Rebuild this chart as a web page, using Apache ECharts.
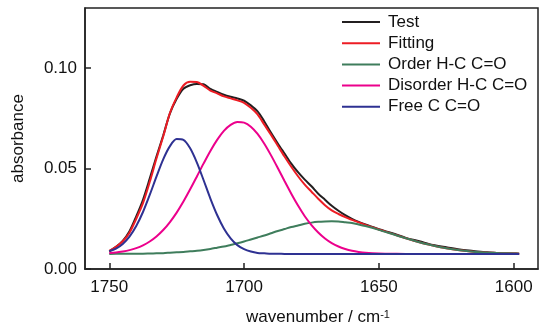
<!DOCTYPE html>
<html>
<head>
<meta charset="utf-8">
<script src="https://cdn.jsdelivr.net/npm/echarts@6/dist/echarts.min.js"></script>
<style>
html,body{margin:0;padding:0;background:#fff;}
#c{width:540px;height:326px;}
</style>
</head>
<body>
<div id="c"></div>
<script>
var wavenumbers = [1750,1747.5,1745,1742.5,1740,1737.5,1735,1732.5,1730,1727.5,1725,1722.5,1720,1717.5,1715,1712.5,1710,1707.5,1705,1702.5,1700,1697.5,1695,1692.5,1690,1687.5,1685,1682.5,1680,1677.5,1675,1672.5,1670,1667.5,1665,1662.5,1660,1657.5,1655,1650,1645,1640,1635,1630,1625,1620,1615,1610,1605,1600,1598];
var testVals = [0.0088,0.0110,0.0140,0.0188,0.0262,0.0345,0.0450,0.0560,0.0665,0.0775,0.0848,0.0898,0.0915,0.0922,0.0920,0.0897,0.0882,0.0868,0.0858,0.0850,0.0838,0.0815,0.0785,0.0735,0.0678,0.0625,0.0575,0.0525,0.0482,0.0445,0.0412,0.0375,0.0345,0.0315,0.0290,0.0268,0.0250,0.0235,0.0222,0.0198,0.0178,0.0155,0.0138,0.0120,0.0108,0.0097,0.0090,0.0083,0.0079,0.0077,0.0076];
var fittingVals = [0.0090,0.0110,0.0138,0.0181,0.0250,0.0328,0.0433,0.0550,0.0660,0.0777,0.0855,0.0914,0.0933,0.0932,0.0912,0.0889,0.0875,0.0860,0.0850,0.0840,0.0828,0.0803,0.0770,0.0719,0.0668,0.0614,0.0560,0.0509,0.0462,0.0420,0.0385,0.0350,0.0318,0.0292,0.0274,0.0258,0.0245,0.0232,0.0220,0.0197,0.0175,0.0153,0.0133,0.0117,0.0103,0.0093,0.0086,0.0082,0.0079,0.0077,0.0076];
var orderVals = [0.0075,0.0076,0.0076,0.0076,0.0076,0.0076,0.0077,0.0078,0.0079,0.0081,0.0083,0.0085,0.0088,0.0091,0.0095,0.0100,0.0106,0.0112,0.0120,0.0128,0.0137,0.0147,0.0157,0.0167,0.0178,0.0189,0.0199,0.0209,0.0217,0.0225,0.0231,0.0235,0.0237,0.0238,0.0237,0.0233,0.0229,0.0222,0.0214,0.0195,0.0174,0.0153,0.0133,0.0117,0.0103,0.0093,0.0086,0.0082,0.0079,0.0077,0.0076];
var disorderVals = [0.0080,0.0082,0.0087,0.0094,0.0104,0.0118,0.0137,0.0162,0.0194,0.0234,0.0281,0.0336,0.0397,0.0461,0.0526,0.0588,0.0643,0.0688,0.0718,0.0732,0.0729,0.0709,0.0673,0.0624,0.0566,0.0503,0.0438,0.0375,0.0316,0.0263,0.0219,0.0182,0.0152,0.0129,0.0112,0.0100,0.0091,0.0085,0.0081,0.0077,0.0076,0.0075,0.0075,0.0075,0.0075,0.0075,0.0075,0.0075,0.0075,0.0075,0.0075];
var freeVals = [0.0089,0.0102,0.0125,0.0161,0.0214,0.0284,0.0369,0.0460,0.0546,0.0612,0.0647,0.0643,0.0601,0.0530,0.0442,0.0351,0.0269,0.0202,0.0153,0.0119,0.0099,0.0087,0.0080,0.0078,0.0076,0.0076,0.0075,0.0075,0.0075,0.0075,0.0075,0.0075,0.0075,0.0075,0.0075,0.0075,0.0075,0.0075,0.0075,0.0075,0.0075,0.0075,0.0075,0.0075,0.0075,0.0075,0.0075,0.0075,0.0075,0.0075,0.0075];
var seriesNames = ['Test','Fitting','Order H-C C=O','Disorder H-C C=O','Free C C=O'];
var seriesColors = ['#231f20','#ed1c24','#3f7d5c','#ec008c','#2e3192'];
var xTicks = [1750,1700,1650,1600];
var yTicks = [0, 0.05, 0.10];

function pairs(vals){ return wavenumbers.map(function(w,i){ return [w, vals[i]]; }); }
var allVals = [testVals, fittingVals, orderVals, disorderVals, freeVals];
var font = 'Liberation Sans, Arial, sans-serif';

var chart = echarts.init(document.getElementById('c'));
chart.setOption({
  animation: false,
  backgroundColor: '#fff',
  textStyle: {fontFamily: font},
  grid: {left: 85, right: 2, top: 8, bottom: 57, outerBoundsMode: 'none', containLabel: false,
    show: true, borderColor: '#222', borderWidth: 1.5, backgroundColor: 'transparent'},
  legend: {
    orient: 'vertical', left: 342, top: 13, padding: 0, itemGap: 3.2,
    itemWidth: 38, itemHeight: 2, icon: 'rect',
    data: seriesNames,
    textStyle: {fontSize: 17, color: '#111', fontFamily: font, lineHeight: 18, padding: [0,0,0,3]}
  },
  xAxis: {
    type: 'value', inverse: true, min: 1591, max: 1759,
    splitLine: {show: false},
    axisLine: {show: true, lineStyle: {color: '#222', width: 1.5}},
    axisTick: {show: true, inside: true, length: 6, customValues: xTicks, lineStyle: {color: '#222', width: 1.5}},
    axisLabel: {customValues: xTicks, fontSize: 17, color: '#111', margin: 10, fontFamily: font,
      formatter: function(v){ return String(v); }},
    name: '{a|wavenumber / cm}{b|-1}',
    nameLocation: 'middle', nameGap: 40,
    nameTextStyle: {padding: [0,0,0,13], rich: {
      a: {fontSize: 17, color: '#111', fontFamily: font},
      b: {fontSize: 11, color: '#111', fontFamily: font, verticalAlign: 'top', padding: [0,0,6,0]}
    }}
  },
  yAxis: {
    type: 'value', min: 0, max: 0.13,
    splitLine: {show: false},
    axisLine: {show: true, lineStyle: {color: '#222', width: 1.5}},
    axisTick: {show: true, inside: true, length: 6, customValues: yTicks, lineStyle: {color: '#222', width: 1.5}},
    axisLabel: {customValues: yTicks, fontSize: 17, color: '#111', margin: 8, fontFamily: font,
      formatter: function(v){ return v.toFixed(2); }},
    name: 'absorbance', nameLocation: 'middle', nameRotate: 90, nameGap: 58,
    nameTextStyle: {fontSize: 17, color: '#111', fontFamily: font}
  },
  series: seriesNames.map(function(n, i){
    return {
      name: n, type: 'line', data: pairs(allVals[i]), smooth: 0.3,
      showSymbol: false, symbol: 'none',
      lineStyle: {color: seriesColors[i], width: 2},
      itemStyle: {color: seriesColors[i]}
    };
  })
});
</script>
</body>
</html>
